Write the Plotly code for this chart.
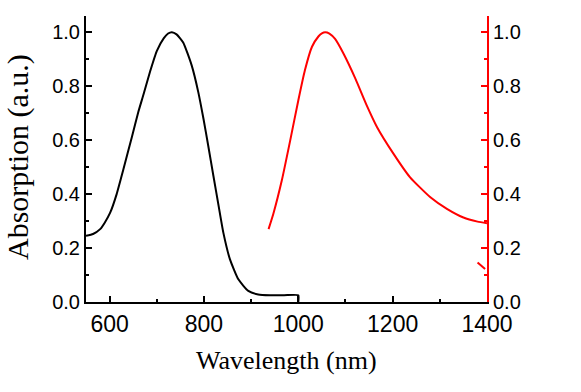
import plotly.graph_objects as go

# Black absorption curve (left axis)
black_wl = [550, 565, 580, 590, 601, 615, 629, 647, 661, 672, 686, 700, 715, 724, 732, 742,
            756, 774, 788, 799, 809, 820, 831, 841, 855, 873, 894, 915, 940, 970, 1000, 1000]
black_abs = [0.245, 0.252, 0.27, 0.295, 0.33, 0.40, 0.49, 0.61, 0.705, 0.77, 0.855, 0.93, 0.978, 0.995, 1.0, 0.992,
             0.962, 0.877, 0.778, 0.679, 0.58, 0.468, 0.357, 0.258, 0.159, 0.084, 0.041, 0.028, 0.025, 0.025, 0.025, 0.0]

# Red absorption curve (right axis)
red_wl = [937, 947, 965, 983, 1000, 1014, 1029, 1043, 1050, 1057, 1066, 1078, 1096, 1121, 1145, 1167,
          1202, 1237, 1280, 1315, 1350, 1380, 1400]
red_abs = [0.27, 0.326, 0.45, 0.60, 0.747, 0.859, 0.946, 0.985, 0.996, 1.0, 0.995, 0.975, 0.92, 0.828, 0.729, 0.648,
           0.549, 0.462, 0.388, 0.345, 0.313, 0.298, 0.292]

# small red fragment near the right axis
frag_wl = [1380, 1396]
frag_abs = [0.146, 0.122]

x_ticks = [600, 800, 1000, 1200, 1400]
y_ticks = [0.0, 0.2, 0.4, 0.6, 0.8, 1.0]
y_labels = ["0.0", "0.2", "0.4", "0.6", "0.8", "1.0"]

fig = go.Figure()
fig.add_trace(go.Scatter(x=black_wl, y=black_abs, mode="lines",
                         line=dict(color="black", width=2, shape="spline", smoothing=0.5),
                         showlegend=False))
fig.add_trace(go.Scatter(x=red_wl, y=red_abs, mode="lines", yaxis="y2",
                         line=dict(color="red", width=2, shape="spline", smoothing=0.5),
                         showlegend=False))
fig.add_trace(go.Scatter(x=frag_wl, y=frag_abs, mode="lines", yaxis="y2",
                         line=dict(color="red", width=2), showlegend=False))

sans = "Liberation Sans, Arial, sans-serif"
serif = "Liberation Serif, Times New Roman, serif"

fig.update_layout(
    width=581, height=392,
    margin=dict(l=86, r=94, t=16, b=90),
    paper_bgcolor="white", plot_bgcolor="white",
    xaxis=dict(range=[550, 1400], tickvals=x_ticks, ticktext=[str(v) for v in x_ticks],
               showgrid=False, zeroline=False, showline=True, linecolor="black", linewidth=2,
               ticks="inside", ticklen=6, tickwidth=2, tickcolor="black",
               minor=dict(dtick=100, tick0=500, ticks="inside", ticklen=3, tickwidth=2, tickcolor="black"),
               tickfont=dict(family=sans, size=23, color="black")),
    yaxis=dict(range=[0, 1.06], tickvals=y_ticks, ticktext=y_labels,
               showgrid=False, zeroline=False, showline=True, linecolor="black", linewidth=2,
               ticks="inside", ticklen=6, tickwidth=2, tickcolor="black",
               minor=dict(dtick=0.1, tick0=0, ticks="inside", ticklen=3, tickwidth=2, tickcolor="black"),
               tickfont=dict(family=sans, size=20, color="black")),
    yaxis2=dict(range=[0, 1.06], tickvals=y_ticks, ticktext=y_labels, overlaying="y", side="right",
                showgrid=False, zeroline=False, showline=True, linecolor="red", linewidth=2,
                ticks="inside", ticklen=6, tickwidth=2, tickcolor="red",
                minor=dict(dtick=0.1, tick0=0, ticks="inside", ticklen=3, tickwidth=2, tickcolor="red"),
                tickfont=dict(family=sans, size=20, color="black")),
    annotations=[
        dict(text="Absorption (a.u.)", xref="paper", yref="paper", x=-0.1696, y=0.507,
             xanchor="center", yanchor="middle", textangle=-90, showarrow=False,
             font=dict(family=serif, size=30, color="black")),
        dict(text="Wavelength (nm)", xref="paper", yref="paper", x=0.5, y=-0.203,
             xanchor="center", yanchor="middle", showarrow=False,
             font=dict(family=serif, size=26, color="black")),
    ],
)

fig.write_html("out.html", config={"displayModeBar": False},
               post_script="document.body.style.margin='0';")
